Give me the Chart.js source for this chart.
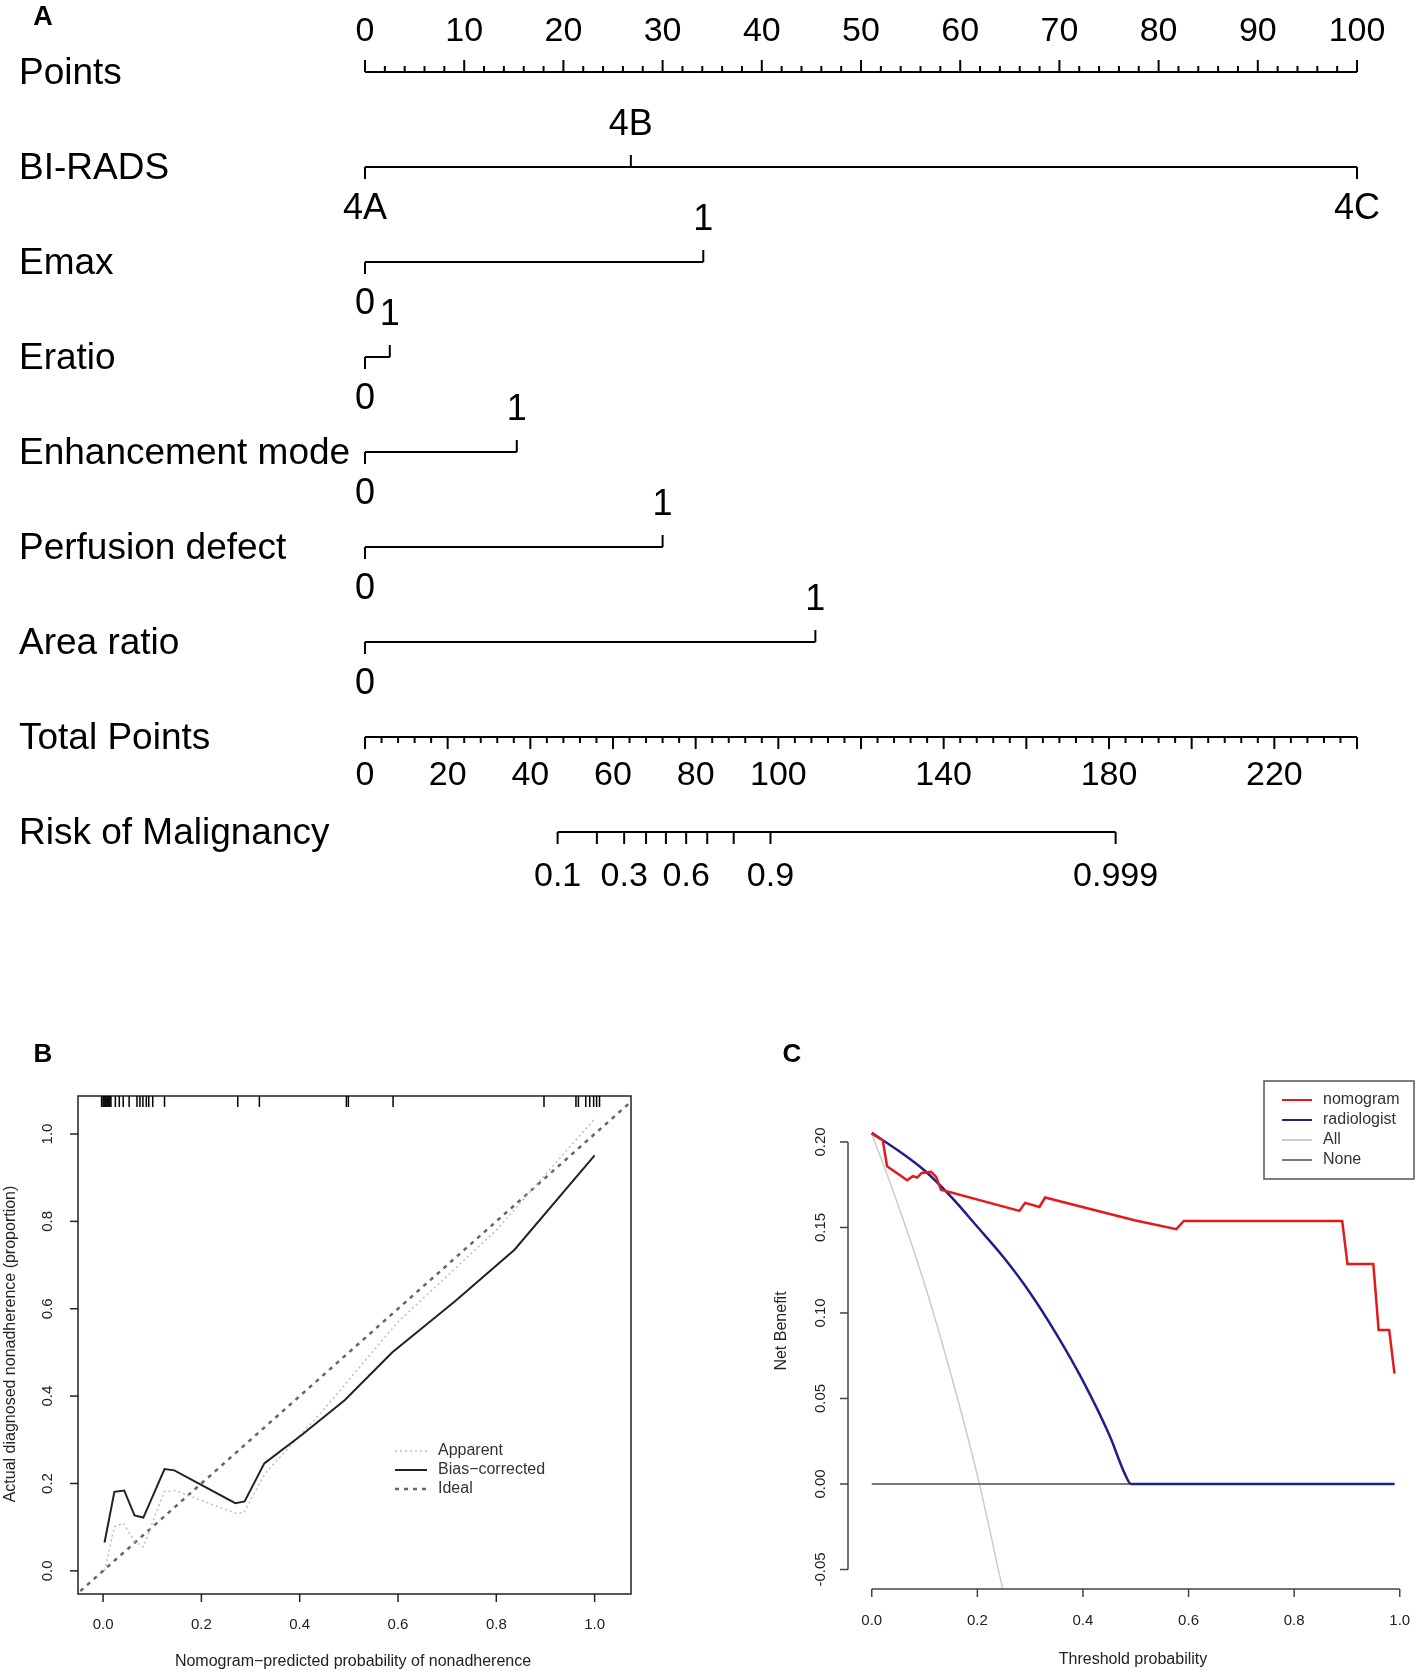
<!DOCTYPE html>
<html>
<head>
<meta charset="utf-8">
<script src="https://cdn.jsdelivr.net/npm/chart.js@4.4.1/dist/chart.umd.min.js"></script>
<style>
  body { margin: 0; background: #fff; }
  #wrap { position: relative; width: 1418px; height: 1677px; background: #fff; }
  canvas { position: absolute; }
</style>
</head>
<body>
<div id="wrap">
  <canvas id="nomo" width="1418" height="900" style="left:0;top:0;width:1418px;height:900px"></canvas>
  <canvas id="calib" width="700" height="717" style="left:0;top:960px;width:700px;height:717px"></canvas>
  <canvas id="dca" width="718" height="717" style="left:700px;top:960px;width:718px;height:717px"></canvas>
</div>
<script>
const FONT = '"Liberation Sans", Arial, sans-serif';

// ---- A: nomogram ----
const rowNames = ["Points", "BI-RADS", "Emax", "Eratio", "Enhancement mode", "Perfusion defect", "Area ratio", "Total Points", "Risk of Malignancy"];
const pointsTicks = [0, 10, 20, 30, 40, 50, 60, 70, 80, 90, 100];

const biradsLabels = ["4A", "4B", "4C"];
const biradsPoints = [0, 26.8, 100];
const biradsSide = [1, -1, 1];          // 1 = label under the line, -1 = above
const emaxLabels = ["0", "1"];
const emaxPoints = [0, 34.1];
const eratioLabels = ["0", "1"];
const eratioPoints = [0, 2.5];
const enhanceLabels = ["0", "1"];
const enhancePoints = [0, 15.3];
const perfusionLabels = ["0", "1"];
const perfusionPoints = [0, 30.0];
const areaLabels = ["0", "1"];
const areaPoints = [0, 45.4];
const binarySide = [1, -1];

const totalLabels = [0, 20, 40, 60, 80, 100, 140, 180, 220];
const totalMax = 240;
const riskLabels = ["0.1", "0.2", "0.3", "0.4", "0.5", "0.6", "0.7", "0.8", "0.9", "0.999"];
const riskAtTotal = [46.6, 56.1, 62.7, 68.0, 72.8, 77.7, 82.8, 89.2, 98.1, 181.6];
const riskShown = ["0.1", "0.3", "0.6", "0.9", "0.999"];

// ---- B: calibration ----
const biasX = [0.003, 0.023, 0.043, 0.064, 0.082, 0.125, 0.145, 0.269, 0.288, 0.328, 0.404, 0.492, 0.588, 0.716, 0.837, 1.0];
const biasY = [0.065, 0.181, 0.184, 0.127, 0.122, 0.233, 0.230, 0.155, 0.159, 0.246, 0.311, 0.391, 0.500, 0.617, 0.735, 0.951];
const apparentX = [0.003, 0.023, 0.041, 0.064, 0.082, 0.124, 0.147, 0.269, 0.286, 0.330, 0.445, 0.600, 0.800, 1.0];
const apparentY = [0.000, 0.101, 0.109, 0.067, 0.055, 0.181, 0.184, 0.132, 0.133, 0.224, 0.364, 0.570, 0.780, 1.035];
const rugX = [-0.003, 0.0, 0.002, 0.004, 0.006, 0.008, 0.010, 0.012, 0.014, 0.016, 0.025, 0.033, 0.041, 0.053, 0.069, 0.075, 0.081, 0.088, 0.093, 0.101, 0.125, 0.274, 0.318, 0.495, 0.499, 0.590, 0.897, 0.962, 0.967, 0.982, 0.990, 0.998, 1.004, 1.010];
const calibTicks = [0, 0.2, 0.4, 0.6, 0.8, 1.0];

// ---- C: decision curve ----
const nomogramX = [0, 0.0208, 0.029, 0.067, 0.0777, 0.0859, 0.0947, 0.1124, 0.122, 0.131, 0.2797, 0.2904, 0.3176, 0.3283, 0.4975, 0.577, 0.591, 0.891, 0.901, 0.950, 0.960, 0.980, 0.990];
const nomogramY = [0.205, 0.201, 0.1858, 0.1776, 0.180, 0.1792, 0.1819, 0.1825, 0.1796, 0.1721, 0.1597, 0.1644, 0.162, 0.1675, 0.1542, 0.149, 0.1538, 0.1538, 0.1286, 0.1286, 0.0901, 0.0901, 0.0645];
const radiologistX = [0, 0.05, 0.10, 0.15, 0.20, 0.25, 0.30, 0.35, 0.40, 0.45, 0.48, 0.491, 0.990];
const radiologistY = [0.2053, 0.195, 0.1833, 0.168, 0.1504, 0.1324, 0.1117, 0.0875, 0.0603, 0.0286, 0.0055, 0, 0];
const allX = [0, 0.05, 0.10, 0.15, 0.20, 0.249];
const allY = [0.205, 0.163, 0.117, 0.064, 0.005, -0.063];
const noneX = [0, 0.99];
const noneY = [0, 0];
const dcaXTicks = [0, 0.2, 0.4, 0.6, 0.8, 1.0];
const dcaYTicks = [-0.05, 0, 0.05, 0.10, 0.15, 0.20];
const dcaNames = ["nomogram", "radiologist", "All", "None"];
const dcaColors = ["#e3191c", "#1f1f8c", "#cccccc", "#7a7a7a"];

const zip = (xs, ys) => xs.map((x, i) => ({ x: x, y: ys[i] }));
const hidden = (min, max, reverse) => ({ type: "linear", min: min, max: max, reverse: !!reverse, display: false });

function line(ctx, x1, y1, x2, y2) {
  ctx.beginPath(); ctx.moveTo(x1, y1); ctx.lineTo(x2, y2); ctx.stroke();
}
function vText(ctx, txt, x, y) {
  ctx.save(); ctx.translate(x, y); ctx.rotate(-Math.PI / 2);
  ctx.fillText(txt, 0, 0); ctx.restore();
}

// ---------------- Panel A ----------------
const k = 100 / totalMax; // points per total point
const variables = [
  { row: 1, labels: biradsLabels, pts: biradsPoints, side: biradsSide },
  { row: 2, labels: emaxLabels, pts: emaxPoints, side: binarySide },
  { row: 3, labels: eratioLabels, pts: eratioPoints, side: binarySide },
  { row: 4, labels: enhanceLabels, pts: enhancePoints, side: binarySide },
  { row: 5, labels: perfusionLabels, pts: perfusionPoints, side: binarySide },
  { row: 6, labels: areaLabels, pts: areaPoints, side: binarySide }
];

const nomoSets = [
  { data: [{ x: 0, y: 0 }, { x: 100, y: 0 }] },
  ...variables.map(v => ({ data: v.pts.map(p => ({ x: p, y: v.row })) })),
  { data: [{ x: 0, y: 7 }, { x: totalMax * k, y: 7 }] },
  { data: [{ x: riskAtTotal[0] * k, y: 8 }, { x: riskAtTotal[riskAtTotal.length - 1] * k, y: 8 }] }
].map(d => Object.assign(d, { showLine: true, borderColor: "#000", borderWidth: 2, pointRadius: 0, clip: false }));

const nomoPlugin = {
  id: "nomoDraw",
  afterDatasetsDraw(chart) {
    const { ctx, scales: { x, y } } = chart;
    const px = v => x.getPixelForValue(v), py = r => y.getPixelForValue(r);
    ctx.save();
    ctx.strokeStyle = "#000"; ctx.fillStyle = "#000"; ctx.lineWidth = 2;

    ctx.font = "bold 27px " + FONT; ctx.textAlign = "center"; ctx.textBaseline = "middle";
    ctx.fillText("A", 43, 18);

    ctx.font = "37px " + FONT; ctx.textAlign = "left";
    rowNames.forEach((n, i) => ctx.fillText(n, 19, py(i) + 2));

    // Points scale
    for (let v = 0; v <= 100; v += 2) {
      const len = v % 10 === 0 ? 12 : 6;
      line(ctx, px(v), py(0), px(v), py(0) - len);
    }
    ctx.font = "34px " + FONT; ctx.textAlign = "center";
    pointsTicks.forEach(v => ctx.fillText(String(v), px(v), py(0) - 40));

    // variables
    ctx.font = "36px " + FONT;
    variables.forEach(v => {
      v.pts.forEach((p, j) => {
        line(ctx, px(p), py(v.row), px(p), py(v.row) + v.side[j] * 12);
        ctx.fillText(v.labels[j], px(p), py(v.row) + v.side[j] * 42);
      });
    });

    // Total points
    for (let t = 0; t <= totalMax; t += 4) {
      const len = t % 20 === 0 ? 12 : 6;
      line(ctx, px(t * k), py(7), px(t * k), py(7) + len);
    }
    ctx.font = "34px " + FONT;
    totalLabels.forEach(t => ctx.fillText(String(t), px(t * k), py(7) + 39));

    // Risk
    riskAtTotal.forEach((t, i) => {
      line(ctx, px(t * k), py(8), px(t * k), py(8) + 12);
      if (riskShown.includes(riskLabels[i])) ctx.fillText(riskLabels[i], px(t * k), py(8) + 45);
    });
    ctx.restore();
  }
};

new Chart(document.getElementById("nomo"), {
  type: "scatter",
  data: { datasets: nomoSets },
  options: {
    responsive: false, animation: false, devicePixelRatio: 1,
    layout: { padding: { left: 365, right: 61, top: 72, bottom: 68 } },
    plugins: { legend: { display: false }, tooltip: { enabled: false } },
    scales: { x: hidden(0, 100), y: hidden(0, 8, true) }
  },
  plugins: [nomoPlugin]
});

// ---------------- Panel B ----------------
const calibPlugin = {
  id: "calibDraw",
  afterDatasetsDraw(chart) {
    const { ctx, chartArea: a, scales: { x, y } } = chart;
    ctx.save();
    ctx.strokeStyle = "#222"; ctx.fillStyle = "#222"; ctx.lineWidth = 1.5;
    ctx.strokeRect(a.left, a.top, a.right - a.left, a.bottom - a.top);

    ctx.font = "15px " + FONT; ctx.textAlign = "center"; ctx.textBaseline = "middle";
    calibTicks.forEach(v => {
      const xx = x.getPixelForValue(v), yy = y.getPixelForValue(v);
      line(ctx, xx, a.bottom, xx, a.bottom + 8);
      ctx.fillText(v.toFixed(1), xx, a.bottom + 31);
      line(ctx, a.left, yy, a.left - 8, yy);
      vText(ctx, v.toFixed(1), a.left - 30, yy);
    });
    ctx.font = "16px " + FONT;
    ctx.fillText("Nomogram\u2212predicted probability of nonadherence", 353, 702);
    vText(ctx, "Actual diagnosed nonadherence (proportion)", 11, 384);

    // rug of predicted values
    ctx.strokeStyle = "#000"; ctx.lineWidth = 1.5;
    rugX.forEach(v => line(ctx, x.getPixelForValue(v), a.top, x.getPixelForValue(v), a.top + 11));

    // legend
    const items = [["Apparent", "#bdbdbd", [2, 3], 1.5], ["Bias\u2212corrected", "#222", [], 2], ["Ideal", "#666", [4, 5], 2.5]];
    ctx.textAlign = "left"; ctx.font = "16px " + FONT; ctx.fillStyle = "#333";
    items.forEach((it, i) => {
      const yy = 491 + i * 19;
      ctx.strokeStyle = it[1]; ctx.setLineDash(it[2]); ctx.lineWidth = it[3];
      line(ctx, 395, yy, 427, yy);
      ctx.setLineDash([]);
      ctx.fillText(it[0], 438, yy);
    });

    ctx.font = "bold 26px " + FONT; ctx.fillStyle = "#000"; ctx.textAlign = "center";
    ctx.fillText("B", 43, 95);
    ctx.restore();
  }
};

new Chart(document.getElementById("calib"), {
  type: "scatter",
  data: {
    datasets: [
      { data: zip(biasX, biasY), borderColor: "#222", borderWidth: 2, order: 0 },
      { data: zip(apparentX, apparentY), borderColor: "#bdbdbd", borderWidth: 1.5, borderDash: [2, 3], order: 1 },
      { data: [{ x: -0.06, y: -0.06 }, { x: 1.09, y: 1.09 }], borderColor: "#666", borderWidth: 2.5, borderDash: [4, 5], order: 2 }
    ].map(d => Object.assign(d, { showLine: true, pointRadius: 0, tension: 0 }))
  },
  options: {
    responsive: false, animation: false, devicePixelRatio: 1,
    layout: { padding: { left: 78, right: 69, top: 136, bottom: 83 } },
    plugins: { legend: { display: false }, tooltip: { enabled: false } },
    scales: { x: hidden(-0.051, 1.074), y: hidden(-0.053, 1.087) }
  },
  plugins: [calibPlugin]
});

// ---------------- Panel C ----------------
const dcaPlugin = {
  id: "dcaDraw",
  afterDatasetsDraw(chart) {
    const { ctx, chartArea: a, scales: { x, y } } = chart;
    ctx.save();
    ctx.strokeStyle = "#444"; ctx.fillStyle = "#222"; ctx.lineWidth = 1.5;
    // y axis
    line(ctx, a.left, y.getPixelForValue(dcaYTicks[0]), a.left, y.getPixelForValue(dcaYTicks[dcaYTicks.length - 1]));
    ctx.font = "15px " + FONT; ctx.textAlign = "center"; ctx.textBaseline = "middle";
    dcaYTicks.forEach(v => {
      const yy = y.getPixelForValue(v);
      line(ctx, a.left, yy, a.left - 8, yy);
      vText(ctx, v.toFixed(2), a.left - 27, yy);
    });
    // x axis
    line(ctx, x.getPixelForValue(dcaXTicks[0]), a.bottom, x.getPixelForValue(dcaXTicks[dcaXTicks.length - 1]), a.bottom);
    dcaXTicks.forEach(v => {
      const xx = x.getPixelForValue(v);
      line(ctx, xx, a.bottom, xx, a.bottom + 8);
      ctx.fillText(v.toFixed(1), xx, a.bottom + 32);
    });
    ctx.font = "16px " + FONT;
    ctx.fillText("Threshold probability", 433, 700);
    vText(ctx, "Net Benefit", 82, 371);

    // legend
    const bx = a.right - 150, by = a.top + 3;
    ctx.strokeStyle = "#555"; ctx.lineWidth = 1.5;
    ctx.strokeRect(bx, by, 150, 98);
    ctx.textAlign = "left"; ctx.fillStyle = "#333";
    dcaNames.forEach((n, i) => {
      const yy = by + 19 + i * 20;
      ctx.strokeStyle = dcaColors[i]; ctx.lineWidth = 2;
      line(ctx, bx + 18, yy, bx + 48, yy);
      ctx.fillText(n, bx + 59, yy);
    });

    ctx.font = "bold 26px " + FONT; ctx.fillStyle = "#000"; ctx.textAlign = "center";
    ctx.fillText("C", 92, 95);
    ctx.restore();
  }
};

new Chart(document.getElementById("dca"), {
  type: "scatter",
  data: {
    datasets: [
      { label: dcaNames[0], data: zip(nomogramX, nomogramY), borderColor: dcaColors[0], borderWidth: 2.5, order: 0, tension: 0 },
      { label: dcaNames[1], data: zip(radiologistX, radiologistY), borderColor: dcaColors[1], borderWidth: 2.5, order: 1, cubicInterpolationMode: "monotone" },
      { label: dcaNames[2], data: zip(allX, allY), borderColor: dcaColors[2], borderWidth: 1.5, order: 3, cubicInterpolationMode: "monotone" },
      { label: dcaNames[3], data: zip(noneX, noneY), borderColor: dcaColors[3], borderWidth: 2, order: 2, tension: 0 }
    ].map(d => Object.assign(d, { showLine: true, pointRadius: 0 }))
  },
  options: {
    responsive: false, animation: false, devicePixelRatio: 1,
    layout: { padding: { left: 148, right: 4, top: 118, bottom: 88 } },
    plugins: { legend: { display: false }, tooltip: { enabled: false } },
    scales: { x: hidden(-0.045, 1.027), y: hidden(-0.0614, 0.2374) }
  },
  plugins: [dcaPlugin]
});
</script>
</body>
</html>
